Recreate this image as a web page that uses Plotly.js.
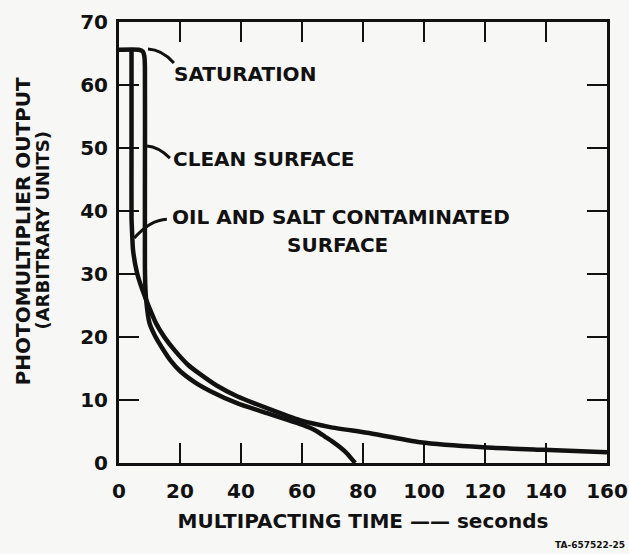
<!DOCTYPE html>
<html>
<head>
<meta charset="utf-8">
<script src="https://cdn.plot.ly/plotly-3.0.1.min.js"></script>
<style>html,body{margin:0;padding:0;background:#f7f7f5;}#chart{width:629px;height:554px;}</style>
</head>
<body>
<div id="chart"></div>
<script>
// ---- data ----
var xTicks = [0, 20, 40, 60, 80, 100, 120, 140, 160];
var yTicks = [0, 10, 20, 30, 40, 50, 60, 70];

// clean surface (saturation plateau, then vertical drop at ~8.5 s, decays, falls to zero near 78 s)
var cleanX = [0, 6.5, 7.8, 8.3, 8.5, 8.5, 8.5, 8.6, 8.9, 10.0, 12.0, 14.1, 17.0, 20.0, 24.9, 30.0, 38.7, 48.5, 55.0, 60.0, 62.6, 65.0, 67.5, 70.0, 72.5, 75.0, 77.4];
var cleanY = [65.6, 65.6, 65.3, 64.6, 63.0, 45.0, 31.0, 28.5, 25.9, 22.2, 20.0, 18.3, 16.2, 14.6, 12.8, 11.4, 9.5, 7.9, 6.9, 6.1, 5.6, 5.0, 4.2, 3.4, 2.5, 1.4, 0];

// oil and salt contaminated surface
var oilX = [4.1, 4.1, 4.1, 4.3, 4.6, 5.9, 7.3, 8.9, 10.5, 12.1, 15.0, 18.4, 22.6, 26.6, 32.0, 38.7, 48.5, 59.3, 69.2, 81.3, 98.7, 119.3, 139.0, 160];
var oilY = [65.6, 50.0, 39.0, 36.5, 33.8, 30.2, 28.0, 25.9, 24.0, 22.2, 19.9, 17.8, 15.6, 14.1, 12.3, 10.6, 8.7, 6.8, 5.7, 4.8, 3.3, 2.5, 2.1, 1.7];

var FONT = 'DejaVu Sans, Arial, sans-serif';
var INK = '#111111';

var traces = [
  {x: cleanX, y: cleanY, mode: 'lines', name: 'Clean surface',
   line: {color: INK, width: 4.5, shape: 'spline', smoothing: 0.5}, hoverinfo: 'skip'},
  {x: oilX, y: oilY, mode: 'lines', name: 'Oil and salt contaminated surface',
   line: {color: INK, width: 4.5, shape: 'spline', smoothing: 0.5}, hoverinfo: 'skip'}
];

var tickFont = {family: FONT, size: 20, color: INK, weight: 'bold'};
var txtFont = {family: FONT, size: 20, color: INK, weight: 'bold'};

var layout = {
  width: 629, height: 554,
  margin: {l: 119, r: 22, t: 22, b: 91, pad: 0},
  paper_bgcolor: '#f7f7f5', plot_bgcolor: '#f7f7f5',
  showlegend: false,
  font: {family: FONT, color: INK},
  xaxis: {
    range: [0, 160], tickmode: 'array', tickvals: xTicks, ticktext: xTicks.map(String),
    ticks: 'inside', ticklen: 20, tickwidth: 2.5, tickcolor: INK,
    showline: true, linewidth: 3, linecolor: INK, mirror: 'ticks',
    showgrid: false, zeroline: false, tickfont: tickFont, ticklabelstandoff: 8,
    title: {text: 'MULTIPACTING TIME —— seconds', font: txtFont, standoff: 12}
  },
  yaxis: {
    range: [0, 70], tickmode: 'array', tickvals: yTicks, ticktext: yTicks.map(String),
    ticks: 'inside', ticklen: 20, tickwidth: 2.5, tickcolor: INK,
    showline: true, linewidth: 3, linecolor: INK, mirror: 'ticks',
    showgrid: false, zeroline: false, tickfont: tickFont, ticklabelstandoff: 4
  },
  shapes: [
    // leader lines from the labels to the curves
    {type: 'path', xref: 'x', yref: 'y', path: 'M 9.5,65.7 Q 14.1,65.6 18.0,63.5', line: {color: INK, width: 3}},
    {type: 'path', xref: 'x', yref: 'y', path: 'M 9.2,50.3 Q 12.8,50.2 16.7,48.4', line: {color: INK, width: 3}},
    {type: 'path', xref: 'x', yref: 'y', path: 'M 15.7,38.7 Q 10.2,38.6 5.0,35.7', line: {color: INK, width: 3}}
  ],
  annotations: [
    {text: 'SATURATION', xref: 'x', yref: 'y', x: 17.5, y: 61.7, xanchor: 'left', yanchor: 'middle', showarrow: false, font: txtFont},
    {text: 'CLEAN SURFACE', xref: 'x', yref: 'y', x: 17.2, y: 48.25, xanchor: 'left', yanchor: 'middle', showarrow: false, font: txtFont},
    {text: 'OIL AND SALT CONTAMINATED', xref: 'x', yref: 'y', x: 72.8, y: 39.0, xanchor: 'center', yanchor: 'middle', showarrow: false, font: txtFont},
    {text: 'SURFACE', xref: 'x', yref: 'y', x: 71.5, y: 34.6, xanchor: 'center', yanchor: 'middle', showarrow: false, font: txtFont},
    {text: 'PHOTOMULTIPLIER OUTPUT', xref: 'paper', yref: 'paper', x: -0.195, y: 0.525, xanchor: 'center', yanchor: 'middle', textangle: -90, showarrow: false, font: txtFont},
    {text: '(ARBITRARY UNITS)', xref: 'paper', yref: 'paper', x: -0.157, y: 0.528, xanchor: 'center', yanchor: 'middle', textangle: -90, showarrow: false, font: {family: FONT, size: 18, color: INK, weight: 'bold'}},
    {text: 'TA-657522-25', xref: 'paper', yref: 'paper', x: 0.965, y: -0.186, xanchor: 'center', yanchor: 'middle', showarrow: false, font: {family: FONT, size: 9, color: INK, weight: 'bold'}}
  ]
};

Plotly.newPlot('chart', traces, layout, {staticPlot: true, displayModeBar: false});
</script>
</body>
</html>
